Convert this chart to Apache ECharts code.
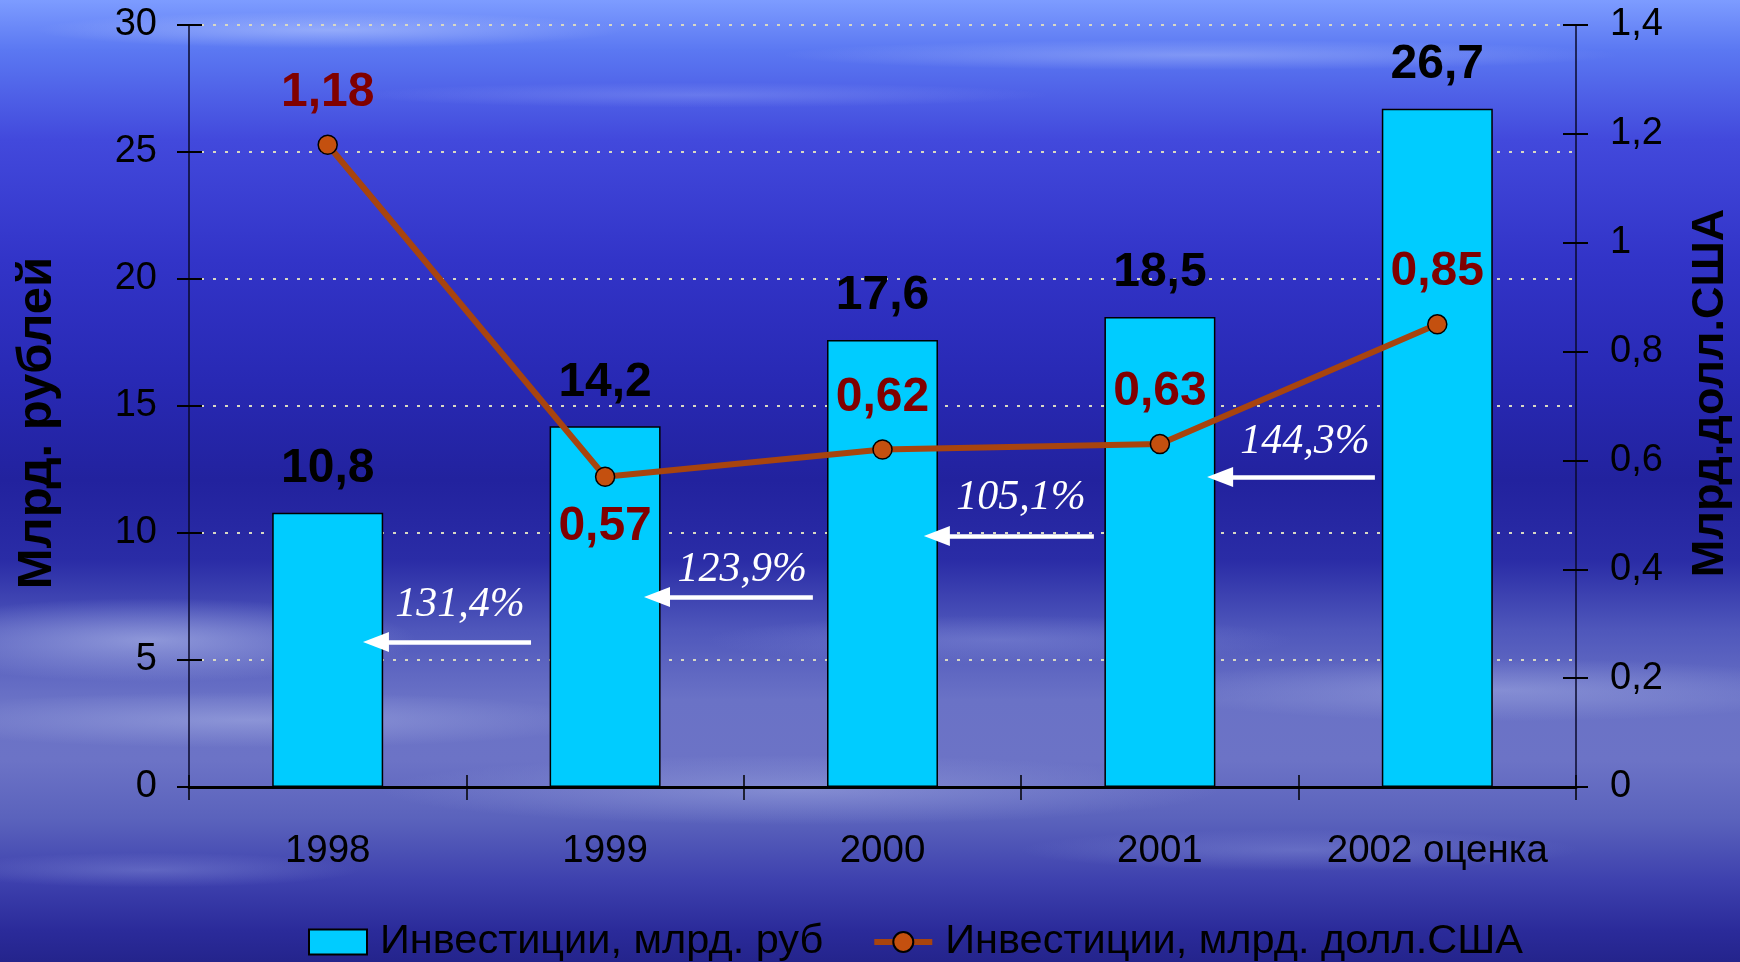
<!DOCTYPE html>
<html>
<head>
<meta charset="utf-8">
<script src="https://cdn.jsdelivr.net/npm/echarts@6.0.0/dist/echarts.min.js"></script>
<style>
html,body{margin:0;padding:0;}
body{
  width:1740px;height:962px;overflow:hidden;
  background:
    radial-gradient(ellipse 420px 26px at 330px 30px, rgba(200,215,255,0.45), rgba(200,215,255,0) 70%),
    radial-gradient(ellipse 600px 22px at 1200px 55px, rgba(200,215,255,0.35), rgba(200,215,255,0) 70%),
    radial-gradient(ellipse 500px 18px at 700px 95px, rgba(180,195,255,0.25), rgba(180,195,255,0) 70%),
    radial-gradient(ellipse 380px 60px at 150px 640px, rgba(190,200,240,0.55), rgba(190,200,240,0) 70%),
    radial-gradient(ellipse 520px 40px at 250px 720px, rgba(180,190,235,0.45), rgba(180,190,235,0) 70%),
    radial-gradient(ellipse 600px 50px at 800px 790px, rgba(170,180,230,0.45), rgba(170,180,230,0) 70%),
    radial-gradient(ellipse 500px 45px at 1500px 690px, rgba(170,180,230,0.45), rgba(170,180,230,0) 70%),
    radial-gradient(ellipse 420px 35px at 1000px 640px, rgba(150,160,225,0.35), rgba(150,160,225,0) 70%),
    radial-gradient(ellipse 400px 30px at 1300px 850px, rgba(150,160,225,0.35), rgba(150,160,225,0) 70%),
    radial-gradient(ellipse 300px 25px at 150px 870px, rgba(150,160,225,0.35), rgba(150,160,225,0) 70%),
    linear-gradient(to bottom, #7d9cff 0px, #5b78f2 50px, #4249dc 140px, #3234c8 260px, #2829b4 380px, #22229e 480px, #2a2ca6 560px, #4f57bb 630px, #6a72c6 700px, #6c73c6 760px, #5a62bc 820px, #3e41ae 880px, #2b2b9a 930px, #24248c 962px);
}
#chart{width:1740px;height:962px;}
</style>
</head>
<body>
<div id="chart"></div>
<script>
// ---- data ----
const years = ['1998', '1999', '2000', '2001', '2002 оценка'];
const rubValues = [10.8, 14.2, 17.6, 18.5, 26.7];
const usdValues = [1.18, 0.57, 0.62, 0.63, 0.85];
const growthLabels = ['131,4%', '123,9%', '105,1%', '144,3%'];
const leftTicks = [0, 5, 10, 15, 20, 25, 30];
const rightTicks = [0, 0.2, 0.4, 0.6, 0.8, 1, 1.2, 1.4];
const rubName = 'Инвестиции, млрд. руб';
const usdName = 'Инвестиции, млрд. долл.США';

// ---- layout of growth annotations (data units of the chart) ----
const growthTextAt = [[0.477, 7.17], [1.494, 8.54], [2.499, 11.38], [3.523, 13.58]];
const growthArrowAt = [[0.733, 0.174, 5.71], [1.749, 1.187, 7.48], [2.762, 2.196, 9.88], [3.775, 3.217, 12.2]];

const FONT = '"Liberation Sans", Arial, sans-serif';
const comma = v => String(v).replace('.', ',');

const chart = echarts.init(document.getElementById('chart'), null, {renderer: 'canvas'});

const noZeroLine = (o) => Object.assign({onZero: false}, o);

const option = {
  backgroundColor: 'transparent',
  animation: false,
  textStyle: {fontFamily: FONT},
  grid: {left: 189, right: 164, top: 25, bottom: 175, containLabel: false, outerBoundsMode: 'none'},
  legend: {
    left: 303, top: 916,
    itemWidth: 58, itemHeight: 25, itemGap: 48,
    textStyle: {fontSize: 41.5, color: '#000', fontFamily: FONT, padding: [0, 0, 0, 8]},
    lineStyle: {width: 6},
    data: [{name: rubName, icon: 'rect'}, {name: usdName}]
  },
  xAxis: [
    {
      type: 'category', data: years, position: 'bottom',
      axisLine: noZeroLine({show: true, lineStyle: {color: '#000', width: 3}}),
      axisTick: {show: true, length: 13, lineStyle: {color: '#000', width: 1.5}},
      axisLabel: {fontSize: 38.5, color: '#000', margin: 45, fontFamily: FONT, interval: 0},
      splitLine: {show: false}
    },
    {
      type: 'value', min: -0.5, max: 4.5, show: false, position: 'bottom',
      axisLine: noZeroLine({show: false})
    },
    {
      type: 'category', data: years, position: 'bottom',
      axisLine: noZeroLine({show: false}),
      axisTick: {show: true, inside: true, length: 12, lineStyle: {color: '#000', width: 1.5}},
      axisLabel: {show: false},
      splitLine: {show: false}
    }
  ],
  yAxis: [
    {
      type: 'value', min: leftTicks[0], max: leftTicks[leftTicks.length - 1], interval: leftTicks[1] - leftTicks[0],
      position: 'left',
      name: 'Млрд. рублей', nameLocation: 'middle', nameRotate: 90, nameGap: 127,
      nameTextStyle: {fontSize: 49, fontWeight: 'bold', color: '#000', fontFamily: FONT, lineHeight: 49, padding: [0, 34, 0, 0]},
      axisLine: noZeroLine({show: true, lineStyle: {color: '#0a0a2a', width: 1.5}}),
      axisTick: {show: true, length: 12, lineStyle: {color: '#000', width: 2}},
      axisLabel: {fontSize: 38, color: '#000', margin: 32, fontFamily: FONT, padding: [7, 0, 0, 0]},
      splitLine: {show: true, lineStyle: {color: '#d8d8c4', width: 2, type: [3, 9]}}
    },
    {
      type: 'value', min: rightTicks[0], max: rightTicks[rightTicks.length - 1], interval: 0.2,
      position: 'right',
      name: 'Млрд.долл.США', nameLocation: 'middle', nameRotate: 90, nameGap: 112,
      nameTextStyle: {fontSize: 45, fontWeight: 'bold', color: '#000', fontFamily: FONT, lineHeight: 45, padding: [0, 0, 0, 26]},
      axisLine: noZeroLine({show: true, lineStyle: {color: '#0a0a2a', width: 1.5}}),
      axisTick: {show: true, length: 12, lineStyle: {color: '#000', width: 2}},
      axisLabel: {fontSize: 38, color: '#000', margin: 34, fontFamily: FONT, padding: [7, 0, 0, 0], formatter: v => comma(+v.toFixed(1))},
      splitLine: {show: false}
    },
    {
      type: 'value', min: leftTicks[0], max: leftTicks[leftTicks.length - 1], interval: leftTicks[1] - leftTicks[0],
      position: 'left',
      axisLine: noZeroLine({show: false}), axisLabel: {show: false}, splitLine: {show: false},
      axisTick: {show: true, inside: true, length: 13, lineStyle: {color: '#000', width: 2}}
    },
    {
      type: 'value', min: rightTicks[0], max: rightTicks[rightTicks.length - 1], interval: 0.2,
      position: 'right',
      axisLine: noZeroLine({show: false}), axisLabel: {show: false}, splitLine: {show: false},
      axisTick: {show: true, inside: true, length: 13, lineStyle: {color: '#000', width: 2}}
    }
  ],
  series: [
    {
      name: rubName, type: 'bar', xAxisIndex: 0, yAxisIndex: 0,
      data: rubValues, barWidth: '40%',
      itemStyle: {color: '#00ccff', borderColor: '#000', borderWidth: 1.5},
      label: {show: true, position: 'top', distance: 20, fontSize: 48, fontWeight: 'bold', color: '#000', fontFamily: FONT, formatter: p => comma(p.value)},
      z: 2
    },
    {
      name: usdName, type: 'line', xAxisIndex: 0, yAxisIndex: 1,
      data: usdValues.map((v, i) => (v < usdValues[Math.max(i - 1, 0)] && v < usdValues[Math.min(i + 1, usdValues.length - 1)])
        ? {value: v, label: {position: 'bottom', distance: 16}} : v),
      symbol: 'circle', symbolSize: 19,
      lineStyle: {color: '#a8440e', width: 6},
      itemStyle: {color: '#c4500f', borderColor: '#000', borderWidth: 1.5},
      label: {show: true, position: 'top', distance: 18, fontSize: 48, fontWeight: 'bold', color: '#800000', fontFamily: FONT, formatter: p => comma(p.value)},
      z: 4
    },
    {
      name: 'growth', type: 'scatter', xAxisIndex: 1, yAxisIndex: 0,
      data: growthLabels.map((t, i) => ({name: t, value: growthTextAt[i]})),
      symbolSize: 1, itemStyle: {color: 'rgba(0,0,0,0)', opacity: 1},
      label: {show: true, position: 'inside', formatter: '{b}', color: '#ffffff', opacity: 1, fontSize: 42, fontStyle: 'italic', fontFamily: '"Liberation Serif", "Times New Roman", serif'},
      silent: true,
      markLine: {
        silent: true, animation: false,
        symbol: ['none', 'triangle'], symbolSize: [20, 26],
        label: {show: false},
        lineStyle: {color: '#fff', width: 4.5, type: 'solid', opacity: 1},
        data: growthArrowAt.map(a => [{coord: [a[0], a[2]]}, {coord: [a[1], a[2]]}])
      },
      z: 5
    }
  ]
};
chart.setOption(option);
</script>
</body>
</html>
